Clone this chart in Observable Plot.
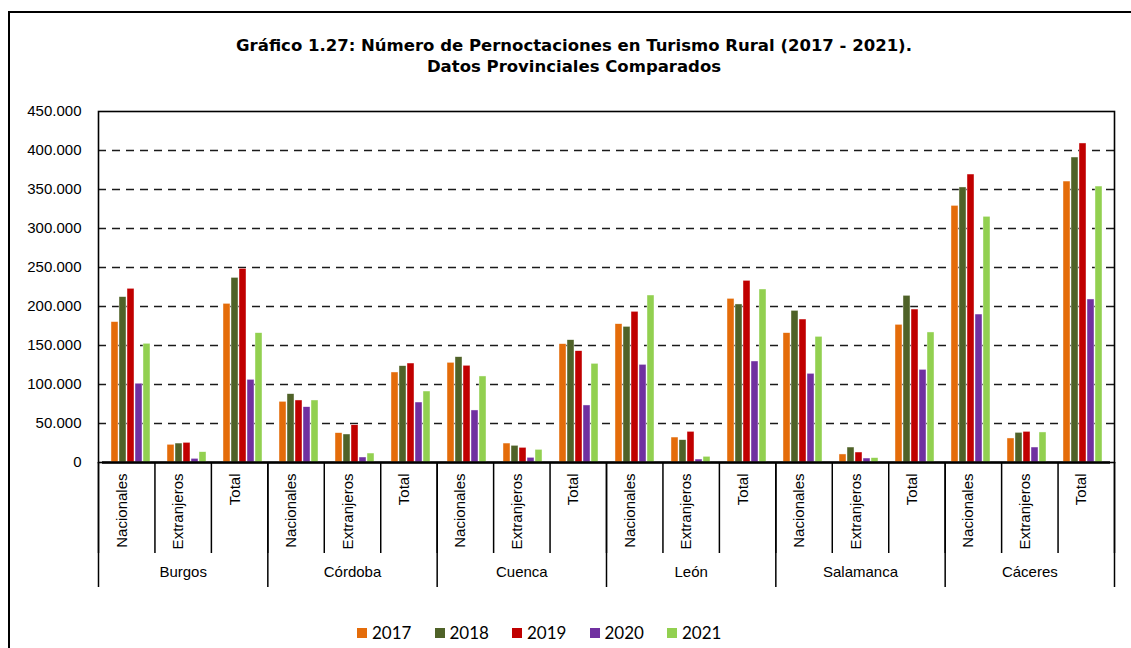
<!DOCTYPE html>
<html>
<head>
<meta charset="utf-8">
<script src="https://cdn.jsdelivr.net/npm/d3@7"></script>
<script src="https://cdn.jsdelivr.net/npm/@observablehq/plot@0.6"></script>
<style>
  html, body { margin: 0; padding: 0; background: #fff; overflow: hidden; }
  #chart { position: relative; width: 1131px; height: 648px; overflow: hidden; font-family: "Liberation Sans", Arial, sans-serif; color: #000; }
  #border { position: absolute; left: 8px; top: 11px; width: 1200px; height: 700px; border-left: 2px solid #000; border-top: 2px solid #000; }
  #title { position: absolute; left: 0; width: 1148px; top: 35px; text-align: center; font-family: "DejaVu Sans", sans-serif; font-weight: bold; font-size: 16.5px; line-height: 21px; }
  .layer { position: absolute; left: 0; top: 0; }
  #legend { position: absolute; left: 357px; top: 623px; display: flex; }
  .item { width: 77.5px; display: flex; align-items: center; font-family: Lato, sans-serif; font-size: 17px; line-height: 20px; }
  .sw { width: 10px; height: 10px; margin-right: 5px; flex: none; }
</style>
</head>
<body>
<div id="chart">
  <div id="border"></div>
  <div id="title">Gráfico 1.27: Número de Pernoctaciones en Turismo Rural (2017 - 2021).<br>Datos Provinciales Comparados</div>
  <div id="back" class="layer"></div>
  <div id="front" class="layer"></div>
  <div id="legend"></div>
</div>
<script>
// ---------- DATA ----------
const provinces = ["Burgos", "Córdoba", "Cuenca", "León", "Salamanca", "Cáceres"];
const subcats = ["Nacionales", "Extranjeros", "Total"];
const years = ["2017", "2018", "2019", "2020", "2021"];
// values in order: per province -> Nacionales, Extranjeros, Total
const values2017 = [180000, 22700, 203400, 77800, 37600, 115400, 127800, 24300, 151700, 177300, 32000, 209800, 165800, 10300, 176500, 329000, 30800, 360200];
const values2018 = [212000, 24300, 236700, 87600, 35900, 123500, 135000, 21400, 156800, 173900, 28600, 202600, 194400, 19200, 213700, 352600, 38000, 391000];
const values2019 = [222700, 25200, 248300, 79500, 47800, 126900, 124000, 18800, 142700, 193200, 39300, 232900, 183300, 12800, 196100, 369200, 39300, 409000];
const values2020 = [101000, 4700, 106000, 70900, 6400, 76900, 66700, 6000, 73100, 125200, 3800, 129500, 113700, 5100, 118800, 189700, 19200, 209000];
const values2021 = [152200, 13200, 165800, 79500, 11500, 91000, 110300, 16200, 126500, 214100, 7300, 221800, 161100, 5600, 166700, 315000, 38500, 353800];
const yTicks = [0, 50000, 100000, 150000, 200000, 250000, 300000, 350000, 400000, 450000];

// ---------- STYLE ----------
const palette = ["#E46C0A", "#4F6228", "#C00000", "#7030A0", "#92D050"];
const W = 1131, H = 600;
const M = { marginTop: 111, marginLeft: 98, marginRight: 17, marginBottom: 138 };
const plotH = H - M.marginTop - M.marginBottom;

// ---------- DERIVED TABLES ----------
const seriesByYear = [values2017, values2018, values2019, values2020, values2021];
const groups = [];
provinces.forEach(p => subcats.forEach(s => groups.push({ prov: p, sub: s, key: p + "|" + s })));
const keys = groups.map(g => g.key);
const rows = [];
years.forEach((y, yi) => groups.forEach((g, gi) => rows.push({ key: g.key, year: y, value: seriesByYear[yi][gi] })));
const n = groups.length;
const subRows = groups.map((g, i) => ({ sub: g.sub, pos: i + 0.5 }));
const provRows = provinces.map((p, i) => ({ prov: p, pos: (i + 0.5) * subcats.length }));
const boundaries = d3.range(n + 1);
const provBoundaries = boundaries.filter(i => i % subcats.length === 0);
const yMax = yTicks[yTicks.length - 1];
const fmt = d3.formatLocale({ decimal: ",", thousands: ".", grouping: [3], currency: ["", "€"] }).format(",");

// ---------- BACK LAYER: frame, grid, axes, category labels ----------
const back = Plot.plot({
  width: W, height: H, ...M,
  style: { fontFamily: "Liberation Sans, Arial, sans-serif", fontSize: "15px", color: "#000", background: "transparent" },
  x: { domain: [0, n], axis: null },
  y: { domain: [0, yMax], axis: null },
  marks: [
    Plot.ruleY(yTicks.filter(t => t > 0 && t < yMax), { stroke: "#1a1a1a", strokeWidth: 1.7, strokeDasharray: "8,6" }),
    Plot.frame({ stroke: "#000", strokeWidth: 1.6 }),
    Plot.axisY({ ticks: yTicks, tickSize: 0, tickPadding: 17, tickFormat: fmt }),
    Plot.ruleX(boundaries, { x: d => d, insetTop: plotH, insetBottom: -91, stroke: "#000", strokeWidth: 1.5 }),
    Plot.ruleX(provBoundaries, { x: d => d, insetTop: plotH, insetBottom: -125, stroke: "#000", strokeWidth: 1.5 }),
    Plot.text(subRows, { x: "pos", text: "sub", frameAnchor: "bottom", rotate: -90, textAnchor: "end", dy: 11 }),
    Plot.text(provRows, { x: "pos", text: "prov", frameAnchor: "bottom", dy: 114 })
  ]
});
document.getElementById("back").appendChild(back);

// ---------- FRONT LAYER: bars ----------
const front = Plot.plot({
  width: W, height: H, ...M,
  style: { background: "transparent" },
  fx: { domain: keys, padding: 0, axis: null },
  x: { domain: years, paddingInner: 0.17, paddingOuter: 0.81, axis: null },
  y: { domain: [0, yMax], axis: null },
  color: { domain: years, range: palette },
  marks: [
    Plot.barY(rows, { fx: "key", x: "year", y: "value", fill: "year", stroke: "#fff", strokeWidth: 0.6, strokeOpacity: 0.7 }),
    Plot.ruleY([0], { stroke: "#000", strokeWidth: 2.6 })
  ]
});
document.getElementById("front").appendChild(front);

// ---------- LEGEND ----------
const legend = document.getElementById("legend");
years.forEach((y, i) => {
  const item = document.createElement("div");
  item.className = "item";
  const sw = document.createElement("span");
  sw.className = "sw";
  sw.style.background = palette[i];
  const t = document.createElement("span");
  t.textContent = y;
  item.appendChild(sw);
  item.appendChild(t);
  legend.appendChild(item);
});
</script>
</body>
</html>
